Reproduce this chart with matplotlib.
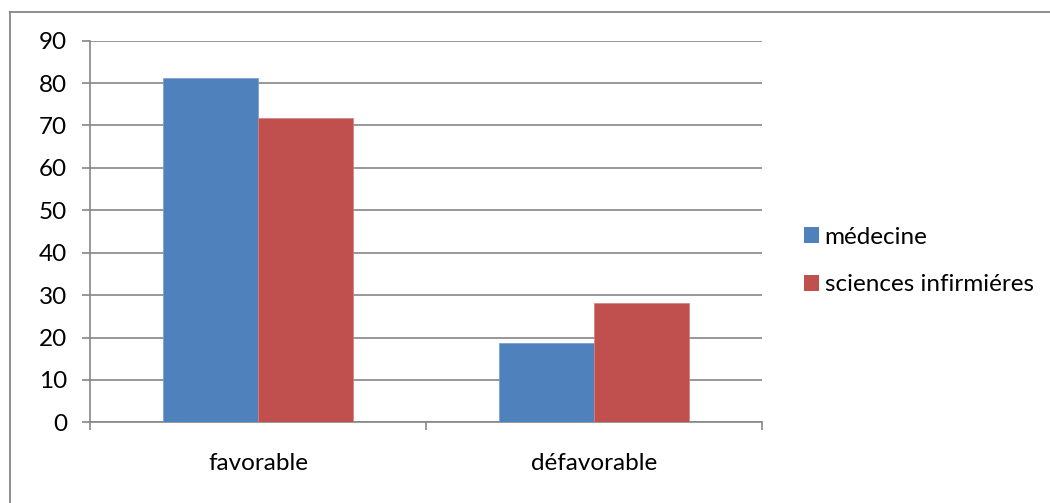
import matplotlib
matplotlib.use("Agg")
import matplotlib.pyplot as plt
from matplotlib.patches import Patch
from matplotlib.lines import Line2D

categories = ["favorable", "défavorable"]
series_names = ["médecine", "sciences infirmiéres"]
medecine = [81.25, 18.75]
sciences_infirmieres = [71.8, 28.2]
y_ticks = [0, 10, 20, 30, 40, 50, 60, 70, 80, 90]

BLUE = "#4F81BD"
RED = "#C0504D"
GRAY = "#868686"
FS = 17.5

plt.rcParams["font.family"] = ["Lato", "DejaVu Sans"]

W, H = 1050, 503
fig = plt.figure(figsize=(W / 100, H / 100), dpi=100)
fig.patch.set_facecolor("white")

ax = fig.add_axes([90 / W, 1 - 422.3 / H, (762 - 90) / W, (422.3 - 40.7) / H])

bar_w = 0.283
x = list(range(len(categories)))
ax.bar([i - bar_w / 2 for i in x], medecine, width=bar_w, color=BLUE,
       edgecolor="#7A9ACB", linewidth=0.5, zorder=3, label=series_names[0])
ax.bar([i + bar_w / 2 for i in x], sciences_infirmieres, width=bar_w, color=RED,
       edgecolor="#D47F7D", linewidth=0.5, zorder=3, label=series_names[1])

ax.set_xlim(-0.5, len(categories) - 0.5)
ax.set_ylim(0, 90)
ax.set_yticks(y_ticks)
ax.yaxis.grid(True, color=GRAY, linewidth=1.2, zorder=0)
ax.set_axisbelow(True)

for side in ("top", "right"):
    ax.spines[side].set_visible(False)
for side in ("left", "bottom"):
    ax.spines[side].set_color(GRAY)
    ax.spines[side].set_linewidth(1.2)

ax.set_xticks(x)
ax.set_xticklabels(categories)
ax.set_xticks([-0.5, 0.5, 1.5], minor=True)
ax.tick_params(axis="x", which="major", length=0, pad=22, labelsize=FS)
ax.tick_params(axis="x", which="minor", length=5.5, width=1.2, color=GRAY,
               direction="out")
ax.tick_params(axis="y", length=5.5, width=1.2, color=GRAY, pad=11,
               labelsize=FS)

handles = [Patch(facecolor=BLUE, edgecolor="none"),
           Patch(facecolor=RED, edgecolor="none")]
fig.legend(handles, series_names, loc="center left",
           bbox_to_anchor=(804 / W, 1 - 261 / H), frameon=False, fontsize=FS,
           handlelength=0.6, handleheight=0.6, handletextpad=0.25,
           labelspacing=1.1, borderaxespad=0, borderpad=0)

# outer chart frame (top and left edges)
fig.add_artist(Line2D([9.5 / W, 1.0], [1 - 12 / H, 1 - 12 / H],
                      transform=fig.transFigure, color=GRAY, linewidth=1.3))
fig.add_artist(Line2D([9.5 / W, 9.5 / W], [0.0, 1 - 12 / H],
                      transform=fig.transFigure, color=GRAY, linewidth=1.3))

fig.savefig("out.png", dpi=100, facecolor="white")
